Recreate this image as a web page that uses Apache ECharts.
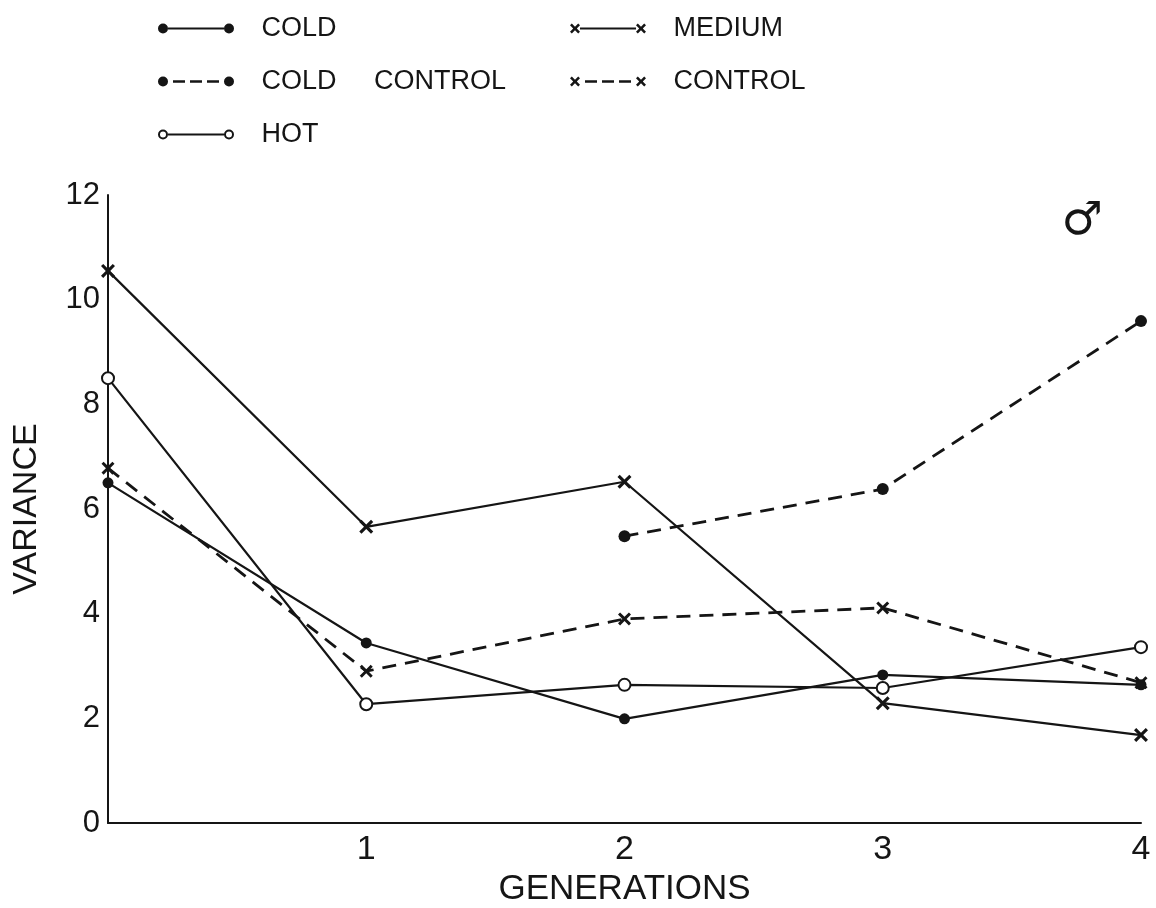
<!DOCTYPE html>
<html><head><meta charset="utf-8">
<script src="https://cdn.jsdelivr.net/npm/echarts@6/dist/echarts.min.js"></script>
<style>html,body{margin:0;padding:0;background:#fff}#chart{width:1156px;height:908px}</style>
</head><body><div id="chart"></div>
<script>
// ---- data ----
const generations = [0, 1, 2, 3, 4];
const cold        = [6.50, 3.44, 1.99, 2.83, 2.64];
const coldControl = [null, null, 5.48, 6.38, 9.59];
const hot         = [8.50, 2.27, 2.64, 2.58, 3.36];
const medium      = [10.55, 5.66, 6.52, 2.29, 1.68];
const control     = [6.78, 2.90, 3.90, 4.11, 2.68];
const seriesNames = ['COLD', 'COLD CONTROL', 'HOT', 'MEDIUM', 'CONTROL'];

const INK = '#151515';
const FONT = 'Liberation Sans';

function pairs(vals) {
  const out = [];
  generations.forEach((g, i) => { if (vals[i] !== null) out.push([g, vals[i]]); });
  return out;
}

// symbols
const X_SYM = 'path://M0,1.6L1.6,0L5,3.4L8.4,0L10,1.6L6.6,5L10,8.4L8.4,10L5,6.6L1.6,10L0,8.4L3.4,5Z';

// legend icons (76 x 10 box)
function dot(cx){ return `M${cx-5},5A5,5,0,1,1,${cx+5},5A5,5,0,1,1,${cx-5},5Z`; }
function ring(cx){ return dot(cx) + `M${cx-3},5A3,3,0,1,0,${cx+3},5A3,3,0,1,0,${cx-3},5Z`; }
function cross(ox){
  const p = [[0,1.8],[1.8,0],[5,3.2],[8.2,0],[10,1.8],[6.8,5],[10,8.2],[8.2,10],[5,6.8],[1.8,10],[0,8.2],[3.2,5]];
  return 'M' + p.map(q => (q[0]+ox) + ',' + q[1]).join('L') + 'Z';
}
const solidSeg = 'M10,4L66,4L66,6L10,6Z';
const dashSeg = 'M15,3.8L27,3.8L27,6.2L15,6.2Z M32,3.8L44,3.8L44,6.2L32,6.2Z M49,3.8L61,3.8L61,6.2L49,6.2Z';
const icons = {
  'COLD': 'path://' + dot(5) + solidSeg + dot(71),
  'COLD CONTROL': 'path://' + dot(5) + dashSeg + dot(71),
  'HOT': 'path://' + ring(5) + solidSeg + ring(71),
  'MEDIUM': 'path://' + cross(0) + solidSeg + cross(66),
  'CONTROL': 'path://' + cross(0) + dashSeg + cross(66)
};

function lineSeries(name, vals, symbol, size, dashed, empty) {
  return {
    name, type: 'line', data: pairs(vals), symbol, symbolSize: size,
    showAllSymbol: true, z: dashed ? 2 : 3,
    lineStyle: { color: INK, width: dashed ? 2.8 : 2.2, type: dashed ? [14, 9] : 'solid' },
    itemStyle: { color: INK, borderColor: INK, borderWidth: empty ? 2.4 : 0 },
    emphasis: { disabled: true }
  };
}

const legendCommon = {
  orient: 'vertical', top: 15, padding: 0, itemGap: 26,
  itemWidth: 76, itemHeight: 10, selectedMode: false,
  itemStyle: { color: INK, borderWidth: 0 },
  textStyle: { fontFamily: FONT, fontSize: 27, color: INK },
  formatter: n => '   ' + (n === 'COLD CONTROL' ? 'COLD     CONTROL' : n)
};

const chart = echarts.init(document.getElementById('chart'));
chart.setOption({
  animation: false,
  backgroundColor: '#fff',
  legend: [
    Object.assign({}, legendCommon, { left: 158, data: ['COLD', 'COLD CONTROL', 'HOT'].map(n => ({ name: n, icon: icons[n] })) }),
    Object.assign({}, legendCommon, { left: 570, data: ['MEDIUM', 'CONTROL'].map(n => ({ name: n, icon: icons[n] })) })
  ],
  grid: { left: 108, right: 15, top: 195, bottom: 85, containLabel: false, outerBoundsMode: 'none' },
  xAxis: {
    type: 'value', min: 0, max: 4, interval: 1,
    axisLine: { show: true, onZero: false, lineStyle: { color: INK, width: 2 } },
    axisTick: { show: false }, splitLine: { show: false },
    axisLabel: { formatter: v => (v === 0 ? '' : String(v)), fontFamily: FONT, fontSize: 34, color: INK, margin: 10 },
    name: 'GENERATIONS', nameLocation: 'middle', nameGap: 48,
    nameTextStyle: { fontFamily: FONT, fontSize: 35, color: INK }
  },
  yAxis: {
    type: 'value', min: 0, max: 12, interval: 2,
    axisLine: { show: true, lineStyle: { color: INK, width: 2 } },
    axisTick: { show: false }, splitLine: { show: false },
    axisLabel: { fontFamily: FONT, fontSize: 31, color: INK, margin: 8 },
    name: 'VARIANCE', nameLocation: 'middle', nameRotate: 90, nameGap: 64,
    nameTextStyle: { fontFamily: FONT, fontSize: 34, color: INK }
  },
  graphic: [{
    type: 'text', x: 1082, y: 222,
    style: { text: '\u2642', fontFamily: 'DejaVu Sans', fontSize: 46, fill: INK, align: 'center', verticalAlign: 'middle' }
  }],
  series: [
    lineSeries('COLD', cold, 'circle', 11, false, false),
    lineSeries('COLD CONTROL', coldControl, 'circle', 12, true, false),
    lineSeries('HOT', hot, 'emptyCircle', 12, false, true),
    lineSeries('MEDIUM', medium, X_SYM, 14, false, false),
    lineSeries('CONTROL', control, X_SYM, 13, true, false)
  ]
});
</script>
</body></html>
